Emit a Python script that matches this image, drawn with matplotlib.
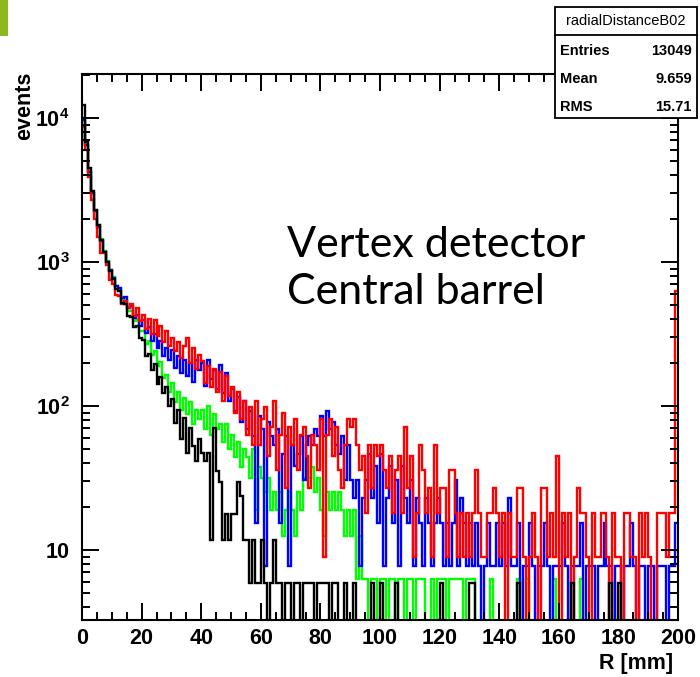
import numpy as np
import matplotlib.pyplot as plt
from matplotlib.ticker import FixedLocator, LogLocator, NullFormatter, MultipleLocator
from matplotlib.patches import Rectangle

plt.rcParams['font.family'] = ['Liberation Sans', 'DejaVu Sans']
plt.rcParams['font.weight'] = 'bold'
plt.rcParams['mathtext.fontset'] = 'custom'
plt.rcParams['mathtext.rm'] = 'Liberation Sans:bold'
plt.rcParams['mathtext.bf'] = 'Liberation Sans:bold'
plt.rcParams['mathtext.it'] = 'Liberation Sans:bold'

# 1 mm bins, 0..200 mm; counts per bin, times a per-sample normalisation
bin_edges = np.arange(0, 201)

black_scale = 5.9
black_counts = [
    2085, 1150, 760, 525, 390, 305, 240, 198, 170, 146,
    129, 110, 106, 88, 86, 72, 70, 60, 61, 50,
    49, 38, 39, 30, 33, 24, 27, 21, 23, 17,
    19, 13, 16, 10, 14, 8, 12, 9, 7, 10,
    8, 7, 8, 2, 12, 6, 5, 2, 3, 2,
    3, 3, 5, 4, 2, 2, 1, 2, 1, 1,
    2, 1, 0, 1, 2, 1, 1, 0, 1, 1,
    0, 1, 1, 0, 1, 1, 1, 1, 0, 1,
    1, 1, 1, 0, 1, 1, 0, 0, 1, 0,
    0, 1, 0, 0, 0, 0, 0, 1, 0, 0,
    1, 0, 0, 0, 0, 1, 0, 0, 0, 0,
    0, 0, 0, 0, 0, 0, 0, 0, 0, 0,
    1, 0, 0, 0, 0, 0, 0, 0, 0, 0,
    1, 1, 0, 0, 0, 0, 0, 0, 0, 0,
    0, 0, 0, 0, 0, 0, 1, 0, 0, 0,
    0, 0, 0, 0, 0, 0, 0, 0, 0, 0,
    0, 0, 0, 0, 1, 0, 0, 0, 0, 0,
    0, 0, 0, 0, 0, 0, 0, 1, 0, 0,
    1, 0, 0, 0, 0, 0, 0, 0, 0, 0,
    0, 0, 0, 0, 0, 0, 0, 0, 0, 0,
]

green_scale = 6.3
green_counts = [
    1590, 1030, 680, 475, 365, 285, 230, 190, 162, 140,
    124, 108, 103, 87, 86, 73, 73, 62, 63, 53,
    53, 43, 45, 36, 38, 30, 32, 25, 26, 20,
    23, 17, 20, 15, 18, 14, 17, 12, 15, 13,
    15, 11, 16, 10, 14, 11, 12, 9, 12, 8,
    10, 7, 9, 6, 8, 7, 5, 8, 3, 6,
    5, 4, 5, 3, 4, 3, 4, 2, 3, 4,
    3, 2, 4, 3, 5, 6, 5, 6, 4, 5,
    3, 2, 4, 3, 4, 3, 4, 3, 2, 3,
    2, 3, 1, 2, 1, 1, 0, 1, 1, 0,
    1, 1, 0, 1, 1, 0, 1, 1, 0, 1,
    1, 0, 1, 1, 1, 0, 0, 1, 0, 1,
    1, 1, 0, 1, 1, 1, 1, 1, 0, 1,
    1, 1, 0, 0, 0, 0, 0, 1, 0, 0,
    0, 0, 0, 0, 0, 0, 1, 0, 0, 1,
    0, 0, 0, 0, 0, 0, 0, 0, 1, 0,
    0, 0, 0, 0, 0, 0, 0, 1, 0, 0,
    0, 0, 0, 0, 0, 0, 0, 0, 0, 0,
    0, 0, 0, 0, 0, 0, 0, 0, 0, 0,
    0, 0, 0, 0, 0, 0, 0, 0, 0, 0,
]

blue_scale = 7.7
blue_counts = [
    1260, 845, 545, 390, 292, 227, 182, 153, 130, 114,
    101, 88, 86, 73, 74, 62, 64, 53, 56, 47,
    51, 42, 46, 37, 41, 33, 37, 29, 33, 27,
    32, 24, 29, 22, 27, 21, 26, 19, 27, 23,
    26, 18, 27, 20, 23, 17, 25, 16, 22, 14,
    17, 12, 15, 10, 14, 9, 12, 8, 2, 11,
    9, 1, 10, 8, 7, 9, 2, 6, 8, 1,
    7, 5, 6, 8, 4, 7, 8, 7, 9, 8,
    11, 8, 12, 9, 10, 7, 6, 8, 4, 7,
    4, 3, 4, 1, 3, 4, 6, 3, 5, 2,
    6, 1, 3, 5, 2, 4, 1, 5, 3, 2,
    4, 1, 3, 2, 1, 3, 2, 1, 2, 3,
    2, 1, 2, 1, 2, 4, 1, 3, 2, 1,
    2, 1, 2, 1, 0, 1, 2, 1, 1, 2,
    1, 2, 1, 3, 1, 1, 2, 0, 1, 1,
    2, 1, 0, 1, 1, 2, 1, 0, 1, 1,
    1, 2, 1, 0, 1, 1, 1, 2, 0, 1,
    1, 1, 0, 1, 1, 2, 1, 1, 0, 1,
    1, 0, 1, 1, 2, 1, 0, 1, 1, 0,
    1, 1, 0, 1, 1, 1, 0, 1, 1, 2,
]

red_scale = 9.0
red_counts = [
    967, 667, 433, 300, 222, 167, 128, 128, 106, 83,
    78, 66, 65, 57, 60, 53, 57, 47, 53, 43,
    48, 38, 45, 35, 44, 34, 40, 31, 37, 29,
    33, 27, 31, 24, 29, 33, 22, 28, 20, 25,
    23, 16, 21, 15, 20, 14, 19, 12, 18, 13,
    15, 10, 14, 9, 12, 7, 11, 6, 12, 6,
    9, 11, 5, 8, 12, 4, 7, 10, 3, 8,
    6, 9, 4, 7, 8, 5, 3, 7, 6, 4,
    9, 1, 7, 9, 5, 8, 4, 3, 6, 9,
    8, 9, 6, 4, 5, 2, 6, 3, 6, 5,
    6, 4, 3, 5, 2, 4, 5, 2, 8, 3,
    5, 1, 2, 6, 4, 2, 3, 1, 6, 2,
    3, 3, 1, 4, 4, 2, 1, 2, 1, 2,
    1, 2, 4, 2, 1, 1, 2, 2, 3, 2,
    1, 2, 0, 2, 1, 1, 3, 3, 1, 0,
    1, 2, 1, 0, 3, 3, 1, 2, 1, 5,
    0, 2, 1, 2, 0, 1, 3, 2, 2, 1,
    0, 2, 1, 1, 2, 2, 1, 0, 2, 1,
    1, 0, 2, 2, 1, 1, 0, 2, 1, 2,
    1, 0, 0, 2, 2, 2, 1, 2, 2, 70,
]

x_ticks = [0, 20, 40, 60, 80, 100, 120, 140, 160, 180, 200]
y_ticks = [10, 100, 1000, 10000]
y_ticklabels = ['10', r'$10^{2}$', r'$10^{3}$', r'$10^{4}$']

stats_title = 'radialDistanceB02'
stats_rows = [('Entries', '13049'), ('Mean', '9.659'), ('RMS', '15.71')]

fig = plt.figure(figsize=(7.0, 6.77), dpi=100)
ax = fig.add_axes([82 / 700, 1 - 620 / 677, 596 / 700, 546 / 677])

series = [(green_counts, green_scale, '#00ff00'),
          (blue_counts, blue_scale, '#0000ff'),
          (red_counts, red_scale, '#ff0000'),
          (black_counts, black_scale, '#000000')]
for counts, scale, col in series:
    c = np.array(counts, dtype=float)
    vals = np.where(c > 0, c * scale, 0.3)   # empty bins drop below the axis like ROOT
    ax.stairs(vals, bin_edges, color=col, lw=1.7, baseline=None)

ax.set_yscale('log')
ax.set_xlim(0, 200)
ax.set_ylim(3.27, 20200)

ax.xaxis.set_major_locator(FixedLocator(x_ticks))
ax.xaxis.set_minor_locator(MultipleLocator(5))
ax.set_xticklabels([str(t) for t in x_ticks])
ax.yaxis.set_major_locator(FixedLocator(y_ticks))
ax.set_yticklabels(y_ticklabels)
ax.yaxis.set_minor_locator(LogLocator(base=10, subs=range(2, 10)))
ax.yaxis.set_minor_formatter(NullFormatter())

ax.tick_params(which='both', direction='in', top=True, right=True, width=1.4, colors='black')
ax.tick_params(which='major', length=12)
ax.tick_params(which='minor', length=6)
ax.tick_params(axis='x', which='major', labelsize=15.5, pad=6)
ax.tick_params(axis='y', which='major', labelsize=15.5, pad=9)
for s in ax.spines.values():
    s.set_linewidth(1.5)

fig.text(673 / 700, 1 - 663 / 677, 'R [mm]', ha='right', va='center', fontsize=15.5, fontweight='bold')
fig.text(25 / 700, 1 - 72 / 677, 'events', ha='center', va='top', rotation=90, fontsize=15.5, fontweight='bold')

ax.text(205 / 596, (620 - 226) / 546, 'Vertex detector\nCentral barrel', transform=ax.transAxes,
        ha='left', va='top', fontsize=31, fontweight='normal', family=['Lato', 'DejaVu Sans'],
        linespacing=1.3)

# statistics box
sx0, sx1, sy0, sy1, sep = 555, 697, 7, 118, 35
fig.patches.append(Rectangle((sx0 / 700, 1 - sy1 / 677), (sx1 - sx0) / 700, (sy1 - sy0) / 677,
                             transform=fig.transFigure, fill=True, facecolor='white',
                             edgecolor='black', lw=1.3, zorder=5))
fig.lines.append(plt.Line2D([sx0 / 700, sx1 / 700], [1 - sep / 677, 1 - sep / 677],
                            transform=fig.transFigure, color='black', lw=1.3, zorder=6))
fig.text((sx0 + sx1) / 2 / 700, 1 - 21 / 677, stats_title, ha='center', va='center',
         fontsize=10.5, fontweight='normal', zorder=7)
for i, (name, val) in enumerate(stats_rows):
    yy = 1 - (51 + 28 * i) / 677
    fig.text((sx0 + 5) / 700, yy, name, ha='left', va='center', fontsize=10.5, zorder=7)
    fig.text((sx1 - 5) / 700, yy, val, ha='right', va='center', fontsize=10.5, zorder=7)

# green slide marker at the top left
fig.patches.append(Rectangle((0, 1 - 36 / 677), 8 / 700, 36 / 677, transform=fig.transFigure,
                             facecolor='#8cb820', edgecolor='none'))

fig.savefig('out.png', dpi=100)
